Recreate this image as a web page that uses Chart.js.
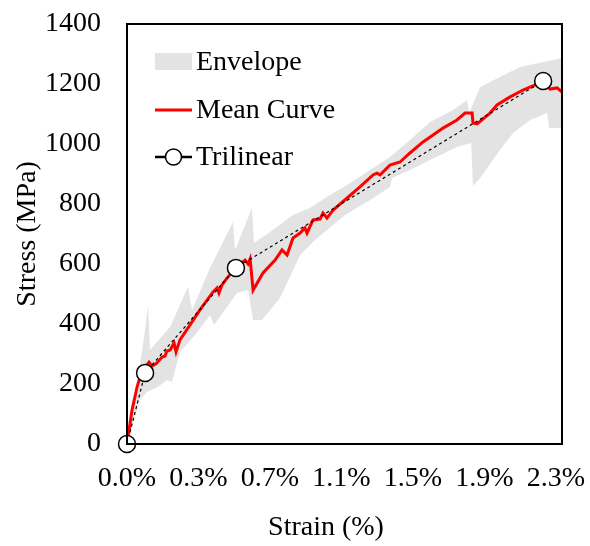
<!DOCTYPE html>
<html><head><meta charset="utf-8">
<script src="https://cdn.jsdelivr.net/npm/chart.js@4/dist/chart.umd.min.js"></script>
<style>html,body{margin:0;padding:0;background:#fff;}#wrap{width:590px;height:546px;}</style>
</head><body><div id="wrap"><canvas id="c" width="590" height="546"></canvas></div>
<script>
// ---- data (strain in %, stress in MPa) ----
const meanStrain = [0, 0.027, 0.054, 0.075, 0.102, 0.118, 0.134, 0.155, 0.188, 0.204, 0.214, 0.231, 0.252, 0.263, 0.284, 0.338, 0.391, 0.461, 0.483, 0.493, 0.509, 0.536, 0.584, 0.633, 0.649, 0.660, 0.676, 0.729, 0.794, 0.831, 0.858, 0.890, 0.928, 0.954, 0.965, 0.997, 1.035, 1.051, 1.072, 1.105, 1.180, 1.249, 1.319, 1.340, 1.357, 1.410, 1.464, 1.517, 1.587, 1.641, 1.694, 1.769, 1.812, 1.850, 1.855, 1.877, 1.946, 1.984, 2.054, 2.123, 2.188, 2.231, 2.268, 2.306, 2.332];
const meanStress = [0, 113, 190, 235, 260, 273, 260, 267, 290, 293, 310, 313, 337, 307, 347, 397, 447, 507, 520, 503, 530, 553, 587, 613, 600, 617, 513, 570, 613, 647, 630, 687, 703, 720, 703, 747, 750, 770, 753, 780, 820, 857, 897, 903, 897, 930, 940, 970, 1007, 1030, 1053, 1080, 1103, 1103, 1070, 1067, 1103, 1130, 1157, 1180, 1197, 1203, 1183, 1187, 1173];

const envUpperStrain = [0, 0.043, 0.097, 0.113, 0.123, 0.231, 0.327, 0.349, 0.445, 0.568, 0.579, 0.670, 0.681, 0.767, 0.890, 0.981, 1.088, 1.180, 1.303, 1.410, 1.517, 1.625, 1.748, 1.823, 1.834, 1.893, 1.999, 2.107, 2.231, 2.332];
const envUpperStress = [0, 147, 380, 463, 313, 390, 523, 447, 587, 740, 647, 787, 670, 707, 763, 787, 830, 863, 913, 957, 1013, 1073, 1113, 1147, 1103, 1190, 1223, 1257, 1273, 1287];

const envLowerStrain = [0, 0.070, 0.107, 0.166, 0.214, 0.241, 0.284, 0.365, 0.445, 0.466, 0.590, 0.649, 0.676, 0.724, 0.820, 0.928, 1.008, 1.072, 1.169, 1.303, 1.410, 1.421, 1.517, 1.625, 1.769, 1.845, 1.855, 1.893, 1.999, 2.070, 2.161, 2.252, 2.263, 2.332];
const envLowerStress = [0, 147, 173, 190, 213, 207, 307, 363, 430, 397, 503, 513, 413, 413, 487, 630, 680, 713, 763, 813, 857, 887, 913, 947, 990, 1003, 860, 887, 980, 1037, 1080, 1103, 1053, 1053];

const trilStrain = [0, 0.097, 0.584, 2.231];
const trilStress = [0, 237, 587, 1210];

const xTickValues = [0, 0.3833, 0.7667, 1.15, 1.5333, 1.9167, 2.3];
const xTickLabels = ['0.0%', '0.3%', '0.7%', '1.1%', '1.5%', '1.9%', '2.3%'];
const yTickValues = [0, 200, 400, 600, 800, 1000, 1200, 1400];

const xTitle = 'Strain (%)';
const yTitle = 'Stress (MPa)';
const legendLabels = ['Envelope', 'Mean Curve', 'Trilinear'];

// ---- build ----
const pts = (xs, ys) => xs.map((x, i) => ({x: x, y: ys[i]}));
const FONT = '"Liberation Serif", "Times New Roman", serif';
const GRAY = 'rgb(227,227,227)';

const boxAndText = {
  id: 'boxAndText',
  afterDraw(chart) {
    const ctx = chart.ctx, a = chart.chartArea;
    ctx.save();
    ctx.strokeStyle = '#000'; ctx.lineWidth = 2;
    ctx.strokeRect(a.left, a.top, a.right - a.left, a.bottom - a.top);
    ctx.fillStyle = '#000';
    ctx.font = '28px ' + FONT;
    ctx.textAlign = 'center'; ctx.textBaseline = 'middle';
    ctx.fillText(xTitle, 326, 528);
    ctx.save();
    ctx.translate(28, (a.top + a.bottom) / 2);
    ctx.rotate(-Math.PI / 2);
    ctx.fillText(yTitle, 0, 0);
    ctx.restore();
    const lx0 = 155, lx1 = 192, tx = 196;
    const rows = [62, 110, 157];
    ctx.textAlign = 'left';
    ctx.fillStyle = GRAY;
    ctx.fillRect(lx0, rows[0] - 9, lx1 - lx0, 17);
    ctx.strokeStyle = '#ff0000'; ctx.lineWidth = 3;
    ctx.beginPath(); ctx.moveTo(lx0, rows[1]); ctx.lineTo(lx1, rows[1]); ctx.stroke();
    ctx.strokeStyle = '#000'; ctx.lineWidth = 2.5;
    ctx.beginPath(); ctx.moveTo(lx0, rows[2]); ctx.lineTo(lx1, rows[2]); ctx.stroke();
    ctx.beginPath(); ctx.arc((lx0 + lx1) / 2, rows[2], 8, 0, Math.PI * 2);
    ctx.fillStyle = '#fff'; ctx.fill(); ctx.lineWidth = 1.5; ctx.stroke();
    ctx.fillStyle = '#000';
    legendLabels.forEach((t, i) => ctx.fillText(t, tx, rows[i] + 1));
    ctx.restore();
  }
};

new Chart(document.getElementById('c'), {
  type: 'line',
  data: {
    datasets: [
      { label: 'Trilinear', data: pts(trilStrain, trilStress), order: 0,
        borderColor: '#000', borderWidth: 1.2, borderDash: [3, 3], fill: false,
        pointRadius: 8.5, pointBackgroundColor: '#fff', pointBorderColor: '#000', pointBorderWidth: 1.5,
        tension: 0, clip: false },
      { label: 'Mean Curve', data: pts(meanStrain, meanStress), order: 1,
        borderColor: '#ff0000', borderWidth: 3, pointRadius: 0, fill: false, tension: 0 },
      { label: 'Envelope upper', data: pts(envUpperStrain, envUpperStress), order: 2,
        borderWidth: 0, borderColor: GRAY, backgroundColor: GRAY, pointRadius: 0, fill: '+1', tension: 0 },
      { label: 'Envelope lower', data: pts(envLowerStrain, envLowerStress), order: 3,
        borderWidth: 0, borderColor: GRAY, backgroundColor: GRAY, pointRadius: 0, fill: false, tension: 0 }
    ]
  },
  options: {
    responsive: false, animation: false, devicePixelRatio: 1,
    layout: { padding: { top: 24, right: 28, left: 0, bottom: 0 } },
    plugins: { legend: { display: false }, tooltip: { enabled: false }, title: { display: false } },
    scales: {
      x: {
        type: 'linear', min: 0, max: 2.332,
        grid: { display: false, drawTicks: false }, border: { display: false },
        afterBuildTicks: s => { s.ticks = xTickValues.map(v => ({ value: v })); },
        afterFit: s => { s.height = 102; s.paddingLeft = 0; s.paddingRight = 0; s.paddingTop = 0; s.paddingBottom = 0; },
        ticks: { color: '#000', font: { family: FONT, size: 28 }, padding: 18, maxRotation: 0, autoSkip: false,
                 callback: (v, i) => xTickLabels[i] }
      },
      y: {
        type: 'linear', min: 0, max: 1400,
        grid: { display: false, drawTicks: false }, border: { display: false },
        afterBuildTicks: s => { s.ticks = yTickValues.map(v => ({ value: v })); },
        afterFit: s => { s.width = 127; s.paddingLeft = 0; s.paddingRight = 0; s.paddingTop = 0; s.paddingBottom = 0; },
        ticks: { color: '#000', font: { family: FONT, size: 28 }, padding: 26, callback: v => String(v) }
      }
    }
  },
  plugins: [boxAndText]
});
</script></body></html>
